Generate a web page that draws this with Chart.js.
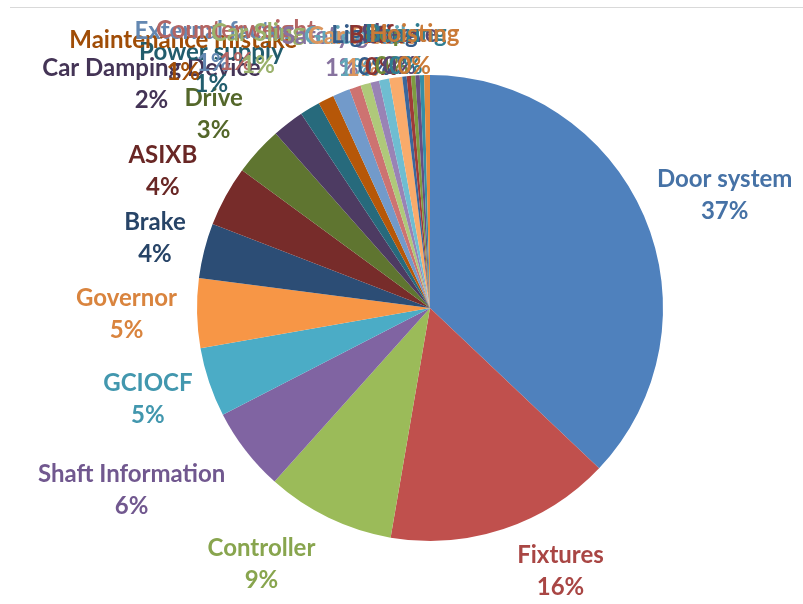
<!DOCTYPE html>
<html>
<head>
<meta charset="utf-8">
<script src="https://cdn.jsdelivr.net/npm/chart.js@4.4.1/dist/chart.umd.min.js"></script>
<style>
  html, body { margin: 0; padding: 0; background: #ffffff; }
  #wrap { position: relative; width: 803px; height: 604px; overflow: hidden; }
  #wrap canvas { position: absolute; left: 0; top: 0; }
  #rule { position: absolute; left: 10px; right: 0; top: 7px; border-top: 1px solid #d9d9d9; }
</style>
</head>
<body>
<div id="wrap">
  <canvas id="chart" width="803" height="604"></canvas>
  <div id="rule"></div>
</div>
<script>
// Failure causes, share of incidents (%)
const categories = [
  'Door system', 'Fixtures', 'Controller', 'Shaft Information', 'GCIOCF',
  'Governor', 'Brake', 'ASIXB', 'Drive', 'Car Damping Device',
  'Power supply', 'Maintenance mistake', 'External factor', 'Counterweight',
  'Car Sling', 'Safety gear', 'Guide rail', 'Car Frame', 'Lighting',
  'Buffer', 'Rope', 'Sheave', 'Bearing', 'Hoisting'
];
const shares = [
  37.0, 15.6, 8.9, 5.8, 4.8,
  4.8, 3.8, 4.2, 3.4, 2.2,
  1.4, 1.1, 1.2, 0.8,
  0.7, 0.6, 0.7, 0.9, 0.3,
  0.3, 0.3, 0.3, 0.3, 0.4
];
const sliceColors = [
  '#4F81BD', '#C0504D', '#9BBB59', '#8064A2', '#4BACC6',
  '#F79646', '#2C4D75', '#772C2A', '#5F7530', '#4D3B62',
  '#276A7C', '#B65708', '#729ACA', '#CD7371', '#AFC97A',
  '#9983B5', '#6FBDD1', '#F9AB6B', '#3A679C', '#9F3B38',
  '#7E9C40', '#664F83', '#358EA6', '#E58B3E'
];
// Hand adjustments [dx, dy] for labels that sit in crowded spots
const labelNudge = [
  [0, 0], [37, -7], [-35, 0], [-24, 8], [0, 0],
  [0, 0], [0, 0], [-15, 0], [-8, -2], [-58, 2],
  [-51, 5], [-83, 3], [-90, 3], [-87, 8],
  [-89, 15], [-14, 21], [-15, 24], [-22, 26], [-23, 27],
  [-22, 27], [-18, 27], [-15, 27], [-14, 27], [-12, 27]
];

function darken(hex, f) {
  const n = parseInt(hex.slice(1), 16);
  const r = Math.round(((n >> 16) & 255) * f);
  const g = Math.round(((n >> 8) & 255) * f);
  const b = Math.round((n & 255) * f);
  return 'rgb(' + r + ',' + g + ',' + b + ')';
}

// Outside-end labels: "name" over "percent", anchored just beyond the rim
const sliceLabels = {
  id: 'sliceLabels',
  afterDatasetsDraw(chart) {
    const ctx = chart.ctx;
    const meta = chart.getDatasetMeta(0);
    const total = shares.reduce((a, b) => a + b, 0);
    const lineH = 32;
    const gap = 20;
    ctx.save();
    ctx.font = 'bold 24px Lato, "Open Sans", sans-serif';
    ctx.textAlign = 'center';
    ctx.textBaseline = 'middle';
    meta.data.forEach((arc, i) => {
      const p = arc.getProps(['x', 'y', 'startAngle', 'endAngle', 'outerRadius'], true);
      const mid = (p.startAngle + p.endAngle) / 2;
      const ux = Math.cos(mid), uy = Math.sin(mid);
      const name = categories[i];
      const pct = Math.round(shares[i] / total * 100) + '%';
      const w = Math.max(ctx.measureText(name).width, ctx.measureText(pct).width);
      const h = lineH * 2;
      const cx = p.x + ux * (p.outerRadius + gap) + ux * w / 2 + labelNudge[i][0];
      const cy = p.y + uy * (p.outerRadius + gap) + uy * h / 2 + labelNudge[i][1];
      ctx.fillStyle = darken(sliceColors[i], 0.88);
      ctx.fillText(name, cx, cy - lineH / 2);
      ctx.fillText(pct, cx, cy + lineH / 2);
    });
    ctx.restore();
  }
};

new Chart(document.getElementById('chart'), {
  type: 'pie',
  data: {
    labels: categories,
    datasets: [{
      data: shares,
      backgroundColor: sliceColors,
      borderWidth: 0
    }]
  },
  options: {
    responsive: false,
    animation: false,
    layout: { padding: { left: 197, right: 140, top: 75, bottom: 63 } },
    plugins: {
      legend: { display: false },
      tooltip: { enabled: false }
    }
  },
  plugins: [sliceLabels]
});
</script>
</body>
</html>
